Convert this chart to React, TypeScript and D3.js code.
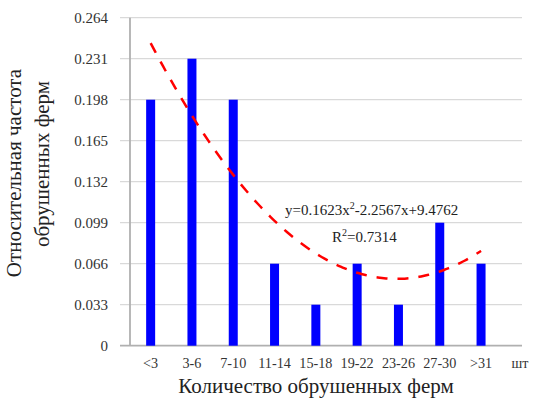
import React from "react";
import * as d3 from "d3";

const categories = ["<3", "3-6", "7-10", "11-14", "15-18", "19-22", "23-26", "27-30", ">31"];
const frequencies = [0.198, 0.231, 0.198, 0.066, 0.033, 0.066, 0.033, 0.099, 0.066];
const yTicks = [0, 0.033, 0.066, 0.099, 0.132, 0.165, 0.198, 0.231, 0.264];
const yTickLabels = ["0", "0.033", "0.066", "0.099", "0.132", "0.165", "0.198", "0.231", "0.264"];
// trend equation as printed on the chart (in counts); one count = 0.033 frequency
const trendCoef = [0.1623, -2.2567, 9.4762];
const countUnit = 0.033;

const W = 533;
const H = 403;
const left = 130;
const right = 522;
const top = 17.7;
const bottom = 345.7;
const font = "'Liberation Serif', 'Times New Roman', serif";

export default function App() {
  const x = d3.scaleBand<string>().domain(categories).range([left, left + 9 * 41.3]).padding(0);
  const y = d3.scaleLinear().domain([0, 0.264]).range([bottom, top]);
  const bw = x.bandwidth();
  const barW = 9;

  const trendPts: [number, number][] = [];
  for (let i = 0; i <= 80; i++) {
    const t = 1 + (i / 80) * 8;
    const v = (trendCoef[0] * t * t + trendCoef[1] * t + trendCoef[2]) * countUnit;
    const px = left + bw / 2 + (t - 1) * bw;
    trendPts.push([px, y(v)]);
  }
  const line = d3.line().curve(d3.curveMonotoneX)(trendPts) || "";

  return (
    <svg width={W} height={H} style={{ position: "absolute", left: 0, top: 0, display: "block", background: "#fff" }}>
      {yTicks.map((t, i) =>
        i === 0 ? null : (
          <line key={"g" + i} x1={120} x2={right} y1={y(t)} y2={y(t)} stroke="#d9d9d9" strokeWidth={1.3} />
        )
      )}
      <line x1={left} x2={left} y1={top} y2={bottom} stroke="#b0b0b0" strokeWidth={1.8} />
      <line x1={120} x2={right} y1={bottom} y2={bottom} stroke="#b0b0b0" strokeWidth={1.8} />
      {yTicks.map((t, i) => (
        <text key={"t" + i} x={108} y={y(t)} dy="0.35em" textAnchor="end" fontFamily={font} fontSize={15} fill="#333">
          {yTickLabels[i]}
        </text>
      ))}
      {categories.map((c, i) => (
        <rect key={"b" + i} x={(x(c) as number) + bw / 2 - barW / 2} y={y(frequencies[i])} width={barW} height={bottom - y(frequencies[i])} fill="#0000ff" />
      ))}
      {categories.map((c, i) => (
        <text key={"x" + i} x={(x(c) as number) + bw / 2} y={368} textAnchor="middle" fontFamily={font} fontSize={14.2} fill="#333">
          {c}
        </text>
      ))}
      <text x={520} y={368} textAnchor="middle" fontFamily={font} fontSize={14} fill="#333">шт</text>
      <path d={line} fill="none" stroke="#ff0000" strokeWidth={2.5} strokeDasharray="11,10" />
      <text x={285} y={215} fontFamily={font} fontSize={15} fill="#222">
        y=0.1623x<tspan fontSize={10} dy={-6}>2</tspan><tspan dy={6}>-2.2567x+9.4762</tspan>
      </text>
      <text x={332} y={242} fontFamily={font} fontSize={15} fill="#222">
        R<tspan fontSize={10} dy={-6}>2</tspan><tspan dy={6}>=0.7314</tspan>
      </text>
      <text x={316} y={393} textAnchor="middle" fontFamily={font} fontSize={21} fill="#222">
        Количество обрушенных ферм
      </text>
      <text transform="translate(21,173) rotate(-90)" textAnchor="middle" fontFamily={font} fontSize={21} fill="#222">
        Относительная частота
      </text>
      <text transform="translate(48.5,164) rotate(-90)" textAnchor="middle" fontFamily={font} fontSize={21} fill="#222">
        обрушенных ферм
      </text>
    </svg>
  );
}
